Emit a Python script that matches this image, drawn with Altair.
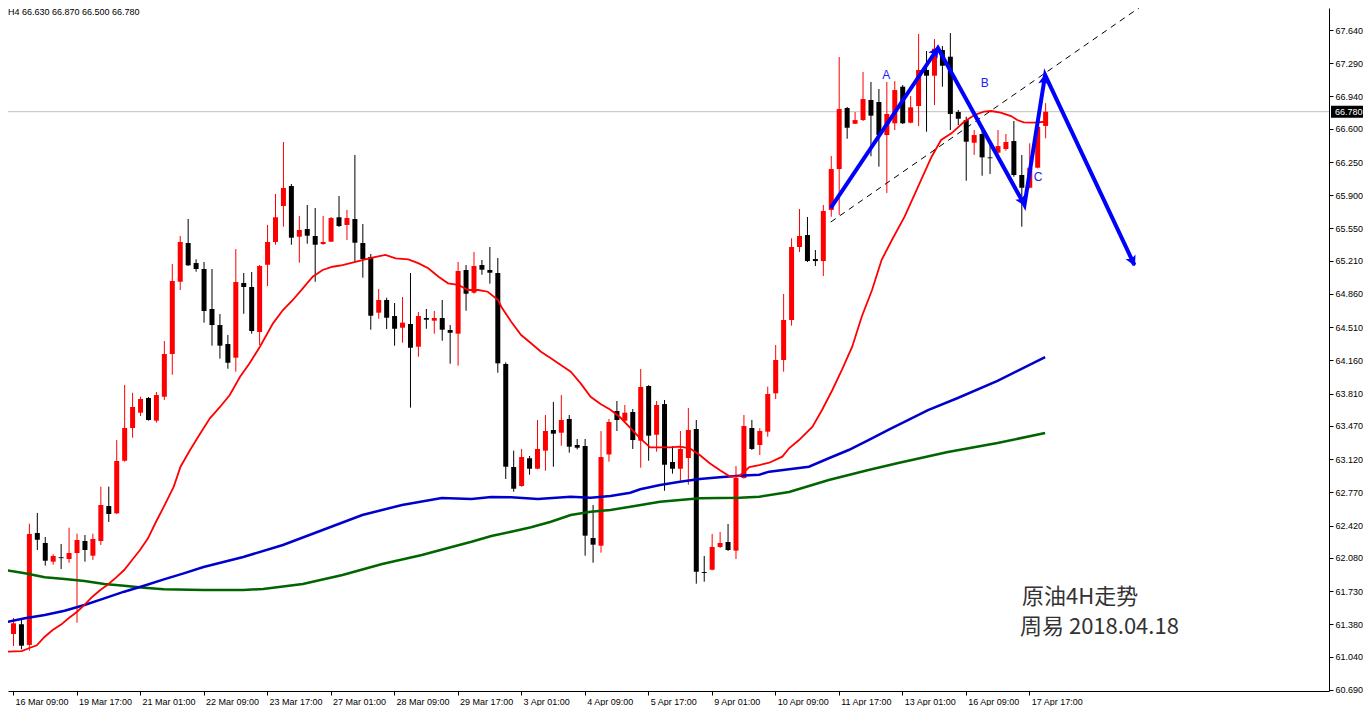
import json
import math
import altair as alt
import pandas as pd

# ---------------- data ----------------
bar_index = list(range(131))
opens = [61.279, 61.382, 61.164, 62.343, 62.238, 62.041, 62.087, 62.069, 62.132, 62.259,
         62.104, 62.259, 62.627, 62.550, 63.104, 63.449, 63.610, 63.765, 63.526, 63.778,
         64.228, 64.989, 65.397, 65.186, 65.123, 64.702, 64.533, 64.333, 64.189, 64.976,
         64.934, 64.460, 65.168, 65.408, 65.787, 65.997, 65.463, 65.544, 65.471, 65.386,
         65.411, 65.668, 65.587, 65.650, 65.397, 65.250, 64.663, 64.797, 64.628, 64.505,
         64.544, 64.305, 64.607, 64.579, 64.607, 64.481, 64.442, 65.113, 64.874, 65.165,
         65.113, 65.081, 64.123, 63.038, 62.838, 63.130, 63.020, 63.210, 63.428, 63.399,
         63.544, 63.270, 63.259, 62.290, 62.209, 63.170, 63.628, 63.526, 63.617, 63.315,
         63.891, 63.378, 63.701, 63.091, 63.020, 63.133, 63.438, 61.932, 61.956, 62.196,
         62.248, 62.157, 62.922, 63.449, 63.270, 63.410, 63.814, 64.165, 64.586, 65.355,
         65.481, 65.228, 65.207, 65.745, 66.176, 66.819, 66.653, 66.692, 66.903, 66.882,
         66.534, 66.658, 67.043, 66.664, 66.840, 67.219, 67.159, 67.429, 67.359, 66.777,
         66.692, 66.453, 66.545, 66.299, 66.348, 66.387, 66.471, 66.113, 65.979, 66.190,
         66.630]
highs = [61.448, 61.445, 62.441, 62.554, 62.301, 62.119, 62.227, 62.399, 62.336, 62.322,
         62.336, 62.831, 62.831, 63.322, 63.902, 63.820, 63.778, 63.775, 63.828, 64.365,
         65.176, 65.471, 65.650, 65.225, 65.197, 65.123, 64.649, 64.428, 65.334, 65.081,
         65.092, 65.165, 65.587, 65.913, 66.461, 66.018, 65.681, 65.797, 65.766, 65.681,
         65.671, 65.892, 65.745, 66.324, 65.597, 65.281, 64.913, 64.821, 64.765, 64.828,
         65.081, 64.670, 64.702, 64.681, 64.797, 64.533, 65.197, 65.165, 65.302, 65.218,
         65.355, 65.239, 64.140, 63.210, 63.228, 63.154, 63.533, 63.586, 63.723, 63.796,
         63.586, 63.333, 63.333, 62.638, 63.417, 63.544, 63.733, 63.691, 63.649, 64.070,
         63.900, 63.733, 63.744, 63.259, 63.417, 63.659, 63.533, 62.101, 62.333, 62.354,
         62.438, 63.049, 63.586, 63.533, 63.446, 63.884, 64.323, 64.860, 65.447, 65.755,
         65.671, 65.323, 65.797, 66.313, 67.356, 66.830, 66.777, 67.198, 67.093, 67.019,
         67.093, 67.103, 67.061, 66.945, 67.598, 67.419, 67.545, 67.472, 67.608, 66.798,
         66.727, 66.587, 66.629, 66.429, 66.587, 66.545, 66.682, 66.324, 66.447, 66.629,
         66.870]
lows = [61.153, 61.118, 61.103, 62.164, 61.999, 62.009, 61.964, 62.030, 61.398, 62.041,
        62.059, 62.217, 62.459, 62.543, 63.094, 63.346, 63.575, 63.526, 63.505, 63.744,
        64.010, 64.902, 65.155, 65.095, 64.558, 64.316, 64.179, 64.073, 64.042, 64.652,
        64.442, 64.323, 64.944, 65.379, 65.569, 65.379, 65.190, 65.390, 64.989, 65.379,
        65.408, 65.566, 65.429, 65.200, 65.032, 64.484, 64.600, 64.491, 64.316, 64.347,
        63.663, 64.200, 64.494, 64.442, 64.368, 64.126, 64.105, 64.684, 64.863, 65.063,
        64.968, 64.031, 62.912, 62.778, 62.830, 62.957, 63.015, 62.999, 63.041, 63.262,
        63.189, 63.224, 62.104, 62.030, 62.136, 63.094, 63.417, 63.515, 63.228, 63.031,
        63.104, 63.199, 62.788, 62.968, 62.894, 62.852, 61.809, 61.830, 61.950, 62.185,
        62.154, 62.069, 62.915, 63.217, 63.164, 63.357, 63.754, 64.042, 64.526, 65.302,
        65.197, 65.155, 65.049, 65.674, 65.692, 66.495, 66.650, 66.682, 66.311, 66.201,
        65.924, 66.587, 66.650, 66.658, 66.629, 66.569, 66.850, 67.043, 66.587, 66.640,
        66.053, 66.324, 66.106, 66.124, 66.295, 66.369, 66.095, 65.569, 65.973, 66.183,
        66.500]
closes = [61.392, 61.156, 62.333, 62.272, 62.051, 62.101, 62.078, 62.132, 62.269, 62.164,
          62.280, 62.638, 62.543, 63.101, 63.449, 63.670, 63.754, 63.533, 63.796, 64.228,
          64.997, 65.408, 65.162, 65.123, 64.681, 64.533, 64.316, 64.136, 64.986, 64.934,
          64.470, 65.155, 65.408, 65.668, 65.976, 65.453, 65.534, 65.474, 65.379, 65.408,
          65.660, 65.576, 65.660, 65.400, 65.228, 64.631, 64.797, 64.610, 64.494, 64.558,
          64.294, 64.628, 64.589, 64.607, 64.484, 64.452, 65.102, 64.863, 65.155, 65.116,
          65.084, 64.130, 63.041, 62.809, 63.143, 63.020, 63.228, 63.417, 63.389, 63.533,
          63.252, 63.241, 62.315, 62.220, 63.143, 63.512, 63.533, 63.610, 63.322, 63.881,
          63.368, 63.691, 63.062, 63.020, 63.228, 63.428, 61.935, 61.922, 62.196, 62.238,
          62.164, 62.922, 63.470, 63.228, 63.417, 63.807, 64.165, 64.586, 65.355, 65.471,
          65.207, 65.207, 65.734, 66.176, 66.808, 66.611, 66.692, 66.913, 66.738, 66.534,
          66.756, 67.008, 66.658, 66.826, 67.219, 67.159, 67.443, 67.264, 66.756, 66.706,
          66.464, 66.534, 66.299, 66.290, 66.418, 66.461, 66.113, 65.979, 66.190, 66.622,
          66.780]

xtick_labels = ["16 Mar 09:00", "19 Mar 17:00", "21 Mar 01:00", "22 Mar 09:00",
                "23 Mar 17:00", "27 Mar 01:00", "28 Mar 09:00", "29 Mar 17:00",
                "3 Apr 01:00", "4 Apr 09:00", "5 Apr 17:00", "9 Apr 01:00",
                "10 Apr 09:00", "11 Apr 17:00", "13 Apr 01:00", "16 Apr 09:00",
                "17 Apr 17:00"]
ytick_labels = ["60.690", "61.040", "61.380", "61.730", "62.080", "62.420", "62.770",
                "63.120", "63.470", "63.810", "64.160", "64.510", "64.860", "65.210",
                "65.550", "65.900", "66.250", "66.600", "66.940", "67.290", "67.640"]

red_ma_x = [-1, 1.1, 2, 3, 4, 5, 6.1, 7, 8, 9, 10, 11, 12, 13, 14, 15, 16, 17, 18, 19,
            20.25, 21.1, 22.3, 23.6, 24.8, 26.1, 27.3, 28.6, 29.8, 31.1, 32.75, 34, 35.25,
            36.5, 37.75, 39, 40.25, 41.5, 42.75, 44, 45.25, 46.9, 48.2, 49.8, 51.1, 52.3,
            53.6, 54.8, 56.1, 57.3, 58.6, 59.8, 61.1, 61.5, 62.75, 64, 65.25, 66.5, 67.75,
            69, 70.25, 71.5, 72.75, 74, 75.25, 76.5, 77.75, 79, 80.25, 81.5, 82.75, 84,
            85.25, 86.5, 87.75, 89, 90.25, 91.5, 92.75, 94, 95.25, 96.9, 97.75, 99, 100.7,
            101.9, 103.2, 104.4, 105.7, 106.9, 108.2, 109.4, 110.7, 112.3, 114, 115.7,
            116.9, 118.2, 119.8, 121.1, 122.3, 123.2, 124.4, 125.7, 126.5, 127.3, 128.6, 130]
red_ma_y = [61.093, 61.100, 61.129, 61.160, 61.251, 61.321, 61.381, 61.445, 61.508, 61.585,
            61.672, 61.743, 61.803, 61.876, 61.953, 62.059, 62.164, 62.287, 62.459, 62.620,
            62.831, 63.041, 63.217, 63.393, 63.551, 63.673, 63.796, 63.989, 64.130, 64.305,
            64.551, 64.691, 64.797, 64.920, 65.042, 65.113, 65.147, 65.165, 65.190, 65.218,
            65.242, 65.271, 65.236, 65.225, 65.183, 65.131, 65.042, 64.973, 64.955, 64.902,
            64.902, 64.884, 64.797, 64.726, 64.568, 64.428, 64.341, 64.252, 64.183, 64.112,
            64.042, 63.919, 63.778, 63.701, 63.641, 63.559, 63.449, 63.340, 63.245, 63.245,
            63.245, 63.252, 63.235, 63.164, 63.077, 63.006, 62.940, 62.943, 63.038, 63.059,
            63.083, 63.147, 63.235, 63.322, 63.463, 63.638, 63.849, 64.060, 64.305, 64.621,
            64.902, 65.218, 65.429, 65.674, 65.990, 66.306, 66.482, 66.552, 66.674, 66.745,
            66.780, 66.787, 66.769, 66.734, 66.692, 66.668, 66.664, 66.674]

blue_ma_x = [-1, 1.5, 4, 6.5, 9, 11.5, 14, 16.5, 19, 21.5, 24, 29, 34, 39, 44, 49, 54,
             57.75, 60.25, 62.75, 66.1, 70.25, 72.75, 75.25, 77.75, 79, 81.5, 84, 86.5,
             89, 91.5, 94, 95.25, 100.25, 102.75, 105.25, 107.75, 110.25, 115.25, 119,
             124, 130]
blue_ma_y = [61.402, 61.445, 61.479, 61.525, 61.585, 61.655, 61.725, 61.788, 61.855,
             61.918, 61.985, 62.090, 62.217, 62.375, 62.533, 62.638, 62.712, 62.701,
             62.722, 62.719, 62.701, 62.725, 62.715, 62.733, 62.767, 62.803, 62.848,
             62.883, 62.912, 62.930, 62.947, 62.957, 62.989, 63.041, 63.130, 63.217,
             63.322, 63.428, 63.638, 63.765, 63.944, 64.196]

green_ma_x = [-1, 1.5, 4, 6.5, 9, 11.5, 14, 16.5, 19, 24, 29, 31.5, 36.5, 41.5, 46.5,
              51.5, 55.25, 57.75, 60.25, 62.75, 65.25, 67.75, 70.25, 72.75, 75.25, 77.75,
              81.5, 86.5, 91.5, 94, 97.75, 102.75, 107.75, 111.5, 117.75, 124, 130]
green_ma_y = [61.953, 61.918, 61.876, 61.859, 61.837, 61.806, 61.788, 61.767, 61.750,
              61.743, 61.743, 61.753, 61.806, 61.901, 62.017, 62.111, 62.196, 62.251,
              62.311, 62.357, 62.403, 62.462, 62.533, 62.567, 62.585, 62.620, 62.673,
              62.708, 62.715, 62.725, 62.775, 62.901, 63.006, 63.080, 63.196, 63.291,
              63.396]

pattern_x = [103, 116.5, 127.4, 130, 141.25]
pattern_y = [65.766, 67.451, 65.797, 67.166, 65.165]
trend_x = [103, 143.6]
trend_y = [65.618, 67.977]
wave_labels = ["A", "B", "C"]
wave_x = [110, 122.4, 129.1]
wave_y = [67.166, 67.082, 66.092]

header_text = "H4  66.630 66.870 66.500 66.780"
title_lines = ["原油4H走势", "周易 2018.04.18"]

# ---------------- chart ----------------
W, H = 1321, 683
FONT = "Liberation Sans"
Y_LO, Y_HI = 60.679, 67.872
xs = alt.Scale(domain=[0, W / 8], nice=False, zero=False)
ys = alt.Scale(domain=[Y_LO, Y_HI], nice=False, zero=False)
ppx = 8.0
ppy = H / (Y_HI - Y_LO)

common_axis = dict(title=None, grid=False, domainColor="black", tickColor="black",
                   labelColor="black", labelFont=FONT, labelFontSize=9,
                   labelOverlap=False, labelFlush=False, domainWidth=1, tickWidth=1)
xaxis = alt.Axis(values=[8 * k for k in range(len(xtick_labels))],
                 labelExpr=json.dumps(xtick_labels, ensure_ascii=False) + "[round(datum.value/8)]",
                 orient="bottom", tickSize=4, labelAlign="left", labelPadding=2,
                 labelOffset=2, **common_axis)
yaxis = alt.Axis(values=[float(v) for v in ytick_labels], format=".3f", orient="right",
                 tickSize=4, labelPadding=2, labelAlign="left", labelBaseline="middle",
                 **common_axis)


def X(field):
    return alt.X(field, type="quantitative", scale=xs, axis=xaxis)


def Y(field):
    return alt.Y(field, type="quantitative", scale=ys, axis=yaxis)


candles = pd.DataFrame({"i": bar_index, "open": opens, "high": highs,
                        "low": lows, "close": closes})
candles["dir"] = ["up" if c >= o else "down" for o, c in zip(opens, closes)]
color = alt.Color("dir:N", scale=alt.Scale(domain=["up", "down"],
                                           range=["#ff0000", "#000000"]), legend=None)

base = alt.Chart(candles)
wicks = base.mark_rule(strokeWidth=1, xOffset=0.5).encode(
    x=X("i"), y=Y("low"), y2="high", color=color)
bodies = base.mark_bar(size=5, xOffset=0.5, stroke=None).encode(
    x=X("i"), y=Y("open"), y2="close", color=color)

last = closes[-1]
price_line = alt.Chart(pd.DataFrame({"p": [last]})).mark_rule(
    color="#c0c0c0", strokeWidth=1).encode(y=Y("p"))


def ma_layer(xv, yv, col, w):
    return alt.Chart(pd.DataFrame({"mx": xv, "my": yv})).mark_line(
        color=col, strokeWidth=w, clip=True).encode(x=X("mx"), y=Y("my"))


green = ma_layer(green_ma_x, green_ma_y, "#006400", 2.5)
blue = ma_layer(blue_ma_x, blue_ma_y, "#0000cd", 2.5)
red = ma_layer(red_ma_x, red_ma_y, "#ff0000", 1.8)

trend = alt.Chart(pd.DataFrame({"tx": trend_x, "ty": trend_y})).mark_line(
    color="black", strokeWidth=1, strokeDash=[6, 5], clip=True).encode(
    x=X("tx"), y=Y("ty"))

pat_df = pd.DataFrame({"px": pattern_x, "py": pattern_y, "o": list(range(len(pattern_x)))})
pattern = alt.Chart(pat_df).mark_line(color="#0000ff", strokeWidth=4, clip=True).encode(
    x=X("px"), y=Y("py"), order="o:Q")

# solid arrow heads at the end of each leg, turned along the leg
heads = []
for k in range(1, len(pattern_x)):
    dx = (pattern_x[k] - pattern_x[k - 1]) * ppx
    dy = -(pattern_y[k] - pattern_y[k - 1]) * ppy
    ang = math.degrees(math.atan2(dx, -dy)) % 360
    heads.append({"hx": pattern_x[k], "hy": pattern_y[k], "ang": ang})
arrows = alt.Chart(pd.DataFrame(heads)).mark_point(
    shape="M0,-0.2L-0.9,1.5L0,1.1L0.9,1.5Z", filled=True, color="#0000ff",
    size=150, opacity=1).encode(
    x=X("hx"), y=Y("hy"), angle=alt.Angle("ang:Q", scale=None))

wave_txt = alt.Chart(pd.DataFrame({"wx": wave_x, "wy": wave_y, "t": wave_labels})).mark_text(
    font=FONT, fontSize=12, color="#2020ff", align="center", baseline="middle").encode(
    x=X("wx"), y=Y("wy"), text="t:N")

cn1 = alt.Chart(pd.DataFrame({"t": [title_lines[0]]})).mark_text(
    font="Noto Sans CJK SC", fontSize=22, color="#333333", align="left",
    baseline="alphabetic").encode(x=alt.value(1014), y=alt.value(596), text="t:N")
cn2 = alt.Chart(pd.DataFrame({"t": [title_lines[1]]})).mark_text(
    font="Noto Sans CJK SC", fontSize=22, color="#333333", align="left",
    baseline="alphabetic").encode(x=alt.value(1012), y=alt.value(626), text="t:N")

header = alt.Chart(pd.DataFrame({"t": [header_text]})).mark_text(
    font=FONT, fontSize=9, color="black", align="left", baseline="top").encode(
    x=alt.value(0), y=alt.value(0), text="t:N")

box_df = pd.DataFrame({"p": [last], "p1": [last - 6 / ppy], "p2": [last + 6 / ppy],
                       "t": ["%.3f" % last]})
box = alt.Chart(box_df).mark_rect(color="black").encode(
    x=alt.value(W + 2), x2=alt.value(W + 36), y=Y("p1"), y2="p2")
box_txt = alt.Chart(box_df).mark_text(
    font=FONT, fontSize=9, color="white", align="left", baseline="middle").encode(
    x=alt.value(W + 6), y=Y("p"), text="t:N")

chart = alt.layer(
    price_line, wicks, bodies, green, blue, red, trend, pattern, arrows,
    wave_txt, cn1, cn2, header, box, box_txt
).properties(
    width=W, height=H,
    autosize=alt.AutoSizeParams(type="none"),
    padding={"left": 0, "top": 0, "right": 34, "bottom": 15},
    background="white",
).configure_view(stroke=None)

chart.save("out.html", embed_options={"renderer": "svg", "actions": False})
